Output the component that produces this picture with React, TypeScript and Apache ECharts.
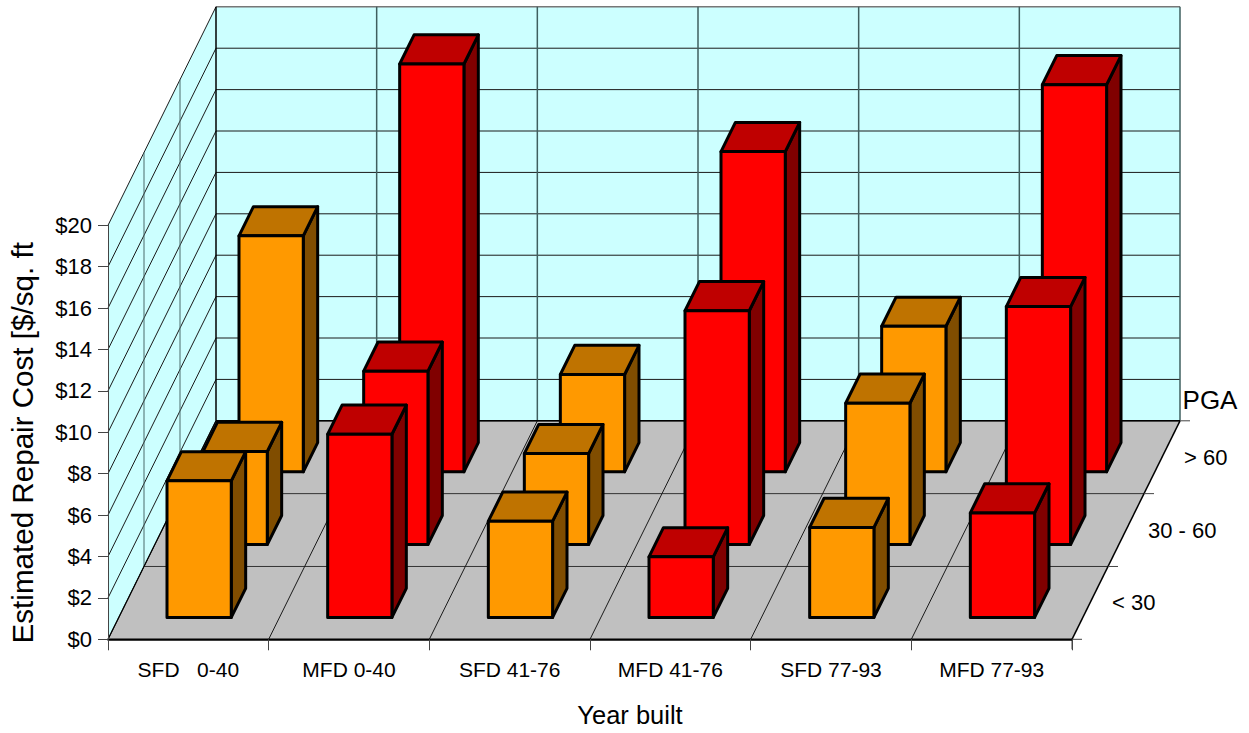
import React, { useEffect, useRef } from "react";
import * as echarts from "echarts";

const categories = ["SFD   0-40", "MFD 0-40", "SFD 41-76", "MFD 41-76", "SFD 77-93", "MFD 77-93"];
const depthLabels = ["< 30", "30 - 60", "> 60"];
const tickValues = [0, 2, 4, 6, 8, 10, 12, 14, 16, 18, 20];

// Repair cost per PGA band, one value per building category.
const pgaBelow30 = [6.6, 8.85, 4.65, 2.93, 4.35, 5.05];
const pga30to60 = [4.5, 8.38, 4.4, 11.3, 6.83, 11.5];
const pgaAbove60 = [11.4, 19.7, 4.7, 15.47, 7.03, 18.7];

// Oblique projection: one depth row moves a point this far on screen.
const ROW_DX = 36;
const ROW_DY = -72.83;
const ROWS = 3;
const BAR_HALF = 0.2;
const BAR_NEAR = 0.3;
const BAR_FAR = 0.7;

const WALL = "#CCFFFF";
const FLOOR = "#C0C0C0";
const ORANGE = { front: "#FF9900", top: "#BF7300", side: "#804D00" };
const RED = { front: "#FF0000", top: "#BF0000", side: "#800000" };

function project(api: any, cat: number, offset: number, value: number, depth: number) {
  const c = api.coord([cat, value]);
  const band = api.size([1, 0])[0];
  return [c[0] + offset * band + depth * ROW_DX, c[1] + depth * ROW_DY];
}

function seg(a: number[], b: number[], stroke: string, lineWidth: number) {
  return {
    type: "line",
    shape: { x1: a[0], y1: a[1], x2: b[0], y2: b[1] },
    style: { stroke, lineWidth, fill: "none" },
  };
}

// Side wall, back wall, floor and their grid lines.
function renderRoom(_params: any, api: any) {
  const last = categories.length - 1;
  const P = (cat: number, off: number, v: number, d: number) => project(api, cat, off, v, d);
  const top = tickValues[tickValues.length - 1];
  const children: any[] = [
    {
      type: "polygon",
      shape: { points: [P(0, -0.5, 0, 0), P(0, -0.5, top, 0), P(0, -0.5, top, ROWS), P(0, -0.5, 0, ROWS)] },
      style: { fill: WALL },
    },
    {
      type: "polygon",
      shape: { points: [P(0, -0.5, 0, ROWS), P(0, -0.5, top, ROWS), P(last, 0.5, top, ROWS), P(last, 0.5, 0, ROWS)] },
      style: { fill: WALL },
    },
    {
      type: "polygon",
      shape: { points: [P(0, -0.5, 0, 0), P(last, 0.5, 0, 0), P(last, 0.5, 0, ROWS), P(0, -0.5, 0, ROWS)] },
      style: { fill: FLOOR },
    },
  ];
  tickValues.forEach((v) => {
    children.push(seg(P(0, -0.5, v, 0), P(0, -0.5, v, ROWS), "#1a1a1a", 1));
    children.push(seg(P(0, -0.5, v, ROWS), P(last, 0.5, v, ROWS), v === top ? "#777" : "#1a1a1a", v === top ? 1.5 : 1));
  });
  for (let d = 1; d < ROWS; d++) {
    children.push(seg(P(0, -0.5, 0, d), P(0, -0.5, top, d), "#4a6a6a", 1));
    children.push(seg(P(0, -0.5, 0, d), P(last, 0.5, 0, d), "#333", 1));
  }
  categories.forEach((_, i) => {
    children.push(seg(P(i, 0.5, 0, ROWS), P(i, 0.5, top, ROWS), "#3f5f5f", 1.5));
    if (i < last) children.push(seg(P(i, 0.5, 0, 0), P(i, 0.5, 0, ROWS), "#1a1a1a", 1));
  });
  children.push(seg(P(0, -0.5, 0, ROWS), P(0, -0.5, top, ROWS), "#000", 1.5));
  children.push(seg(P(0, -0.5, 0, 0), P(0, -0.5, 0, ROWS), "#000", 1.2));
  children.push(seg(P(last, 0.5, 0, 0), P(last, 0.5, 0, ROWS), "#000", 1.5));
  children.push(seg(P(0, -0.5, 0, ROWS), P(last, 0.5, 0, ROWS), "#000", 1.5));
  children.push(seg(P(0, -0.5, 0, 0), P(last, 0.5, 0, 0), "#000", 1.5));

  // Depth axis: ticks along the right floor edge and the band labels between them.
  for (let d = 0; d <= ROWS; d++) {
    const p = P(last, 0.5, 0, d);
    children.push(seg(p, [p[0] + 10, p[1]], "#444", 1));
  }
  children.push(seg(P(last, 0.5, 0, 0), [P(last, 0.5, 0, 0)[0], P(last, 0.5, 0, 0)[1] + 10], "#444", 1));
  depthLabels.forEach((label, d) => {
    const p = P(last, 0.5, 0, d + 0.5);
    children.push({
      type: "text",
      x: p[0] + 22,
      y: p[1],
      style: { text: label, fill: "#000", font: '22px "Liberation Sans"', align: "left", verticalAlign: "middle" },
    });
  });
  const pga = P(last, 0.5, 0, ROWS);
  children.push({
    type: "text",
    x: pga[0] + 30,
    y: pga[1] - 21,
    style: { text: "PGA", fill: "#000", font: '26px "Liberation Sans"', align: "center", verticalAlign: "middle" },
  });
  return { type: "group", children };
}

// One extruded bar: front face, top cap and right side.
function barRenderer(row: number) {
  return (_params: any, api: any) => {
    const cat = api.value(0);
    const val = api.value(1);
    const tone = cat % 2 === 0 ? ORANGE : RED;
    const near = row + BAR_NEAR;
    const far = row + BAR_FAR;
    const P = (off: number, v: number, d: number) => project(api, cat, off, v, d);
    const line = { stroke: "#000", lineWidth: 3, lineJoin: "round" };
    return {
      type: "group",
      children: [
        {
          type: "polygon",
          shape: { points: [P(BAR_HALF, 0, near), P(BAR_HALF, 0, far), P(BAR_HALF, val, far), P(BAR_HALF, val, near)] },
          style: { fill: tone.side, ...line },
        },
        {
          type: "polygon",
          shape: { points: [P(-BAR_HALF, val, near), P(BAR_HALF, val, near), P(BAR_HALF, val, far), P(-BAR_HALF, val, far)] },
          style: { fill: tone.top, ...line },
        },
        {
          type: "polygon",
          shape: { points: [P(-BAR_HALF, 0, near), P(BAR_HALF, 0, near), P(BAR_HALF, val, near), P(-BAR_HALF, val, near)] },
          style: { fill: tone.front, ...line },
        },
      ],
    };
  };
}

function barSeries(name: string, row: number, values: number[], z: number) {
  return {
    type: "custom",
    name,
    z,
    silent: true,
    renderItem: barRenderer(row),
    encode: { x: 0, y: 1 },
    data: values.map((v, i) => [i, v]),
  };
}

export default function App() {
  const ref = useRef<HTMLDivElement>(null);

  useEffect(() => {
    const chart = echarts.init(ref.current!, undefined, { renderer: "svg" });
    chart.setOption({
      animation: false,
      backgroundColor: "#fff",
      textStyle: { fontFamily: '"Liberation Sans"' },
      grid: { left: 108, top: 225.3, width: 964, height: 414, containLabel: false, outerBoundsMode: "none" },
      xAxis: {
        type: "category",
        data: categories,
        z: 6,
        name: "Year built",
        nameLocation: "middle",
        nameGap: 63,
        nameTextStyle: { fontSize: 25.5, color: "#000", padding: [0, 0, 0, 80] },
        axisLine: { lineStyle: { color: "#000", width: 1.5 } },
        axisTick: { show: true, length: 11, lineStyle: { color: "#444" } },
        axisLabel: { fontSize: 21, color: "#000", margin: 20, interval: 0 },
      },
      yAxis: {
        type: "value",
        min: 0,
        max: 20,
        interval: 2,
        z: 6,
        name: "Estimated Repair Cost [$/sq. ft",
        nameLocation: "middle",
        nameGap: 71,
        nameTextStyle: { fontSize: 29.6, color: "#000", padding: [0, 0, 0, -21] },
        axisLine: { show: true, lineStyle: { color: "#444" } },
        axisTick: { show: true, length: 10, lineStyle: { color: "#444" } },
        axisLabel: { fontSize: 22, color: "#000", margin: 16, formatter: (v: number) => `$${v}` },
        splitLine: { show: false },
      },
      series: [
        {
          type: "custom",
          name: "room",
          z: 1,
          silent: true,
          renderItem: renderRoom,
          encode: { x: 0, y: 1 },
          data: [[0, 0]],
        },
        barSeries("> 60", 2, pgaAbove60, 2),
        barSeries("30 - 60", 1, pga30to60, 3),
        barSeries("< 30", 0, pgaBelow30, 4),
      ],
    });
    return () => chart.dispose();
  }, []);

  return <div ref={ref} style={{ position: "fixed", left: 0, top: 0, width: 1249, height: 733 }} />;
}
